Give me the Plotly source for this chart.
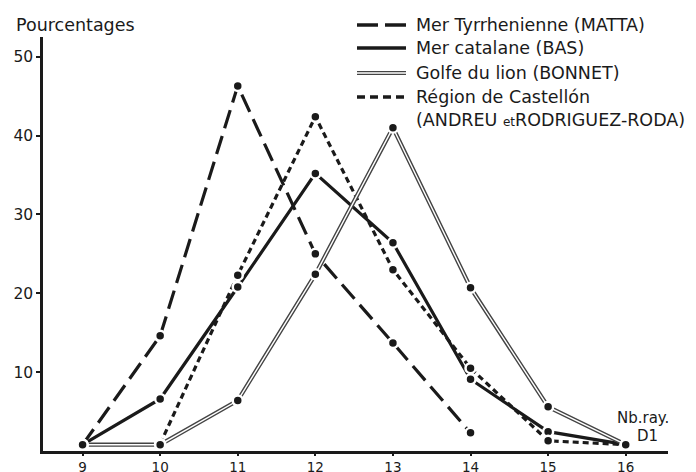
import plotly.graph_objects as go

# ---- data ----
x_ticks = [9, 10, 11, 12, 13, 14, 15, 16]
y_ticks = [10, 20, 30, 40, 50]

matta_x = [9, 10, 11, 12, 13, 14]
matta_y = [0.8, 14.6, 46.3, 25.0, 13.7, 2.3]

bas_x = [9, 10, 11, 12, 13, 14, 15, 16]
bas_y = [0.8, 6.6, 20.8, 35.2, 26.4, 9.1, 2.45, 0.8]

bonnet_x = [9, 10, 11, 12, 13, 14, 15, 16]
bonnet_y = [0.8, 0.8, 6.4, 22.4, 41.0, 20.7, 5.6, 0.8]

andreu_x = [10, 11, 12, 13, 14, 15, 16]
andreu_y = [0.9, 22.3, 42.4, 23.0, 10.5, 1.3, 0.8]

legend_labels = [
    "Mer Tyrrhenienne (MATTA)",
    "Mer catalane (BAS)",
    "Golfe du lion (BONNET)",
    "Région de Castellón<br>(ANDREU <span style='font-size:12px'>et</span>RODRIGUEZ-RODA)",
]

FONT = "DejaVu Sans"
INK = "#1a1a1a"
OFF = 8                      # page body margin
WIN_W, WIN_H = 696, 472
W, H = WIN_W - OFF, WIN_H - OFF
PL, PR, PT, PB = 43, 668, 37, 451   # plot area in window pixels
L, R, T, B = PL - OFF, (W + OFF) - PR, PT - OFF, (H + OFF) - PB


def px(x):
    return (x - PL) / (PR - PL)


def py(y):
    return (PB - y) / (PB - PT)


fig = go.Figure()

# lines
fig.add_trace(go.Scatter(x=matta_x, y=matta_y, mode="lines",
                         line=dict(color=INK, width=3.2, dash="19px,8px"),
                         hoverinfo="skip"))
fig.add_trace(go.Scatter(x=bas_x, y=bas_y, mode="lines",
                         line=dict(color=INK, width=3.2), hoverinfo="skip"))
fig.add_trace(go.Scatter(x=andreu_x, y=andreu_y, mode="lines",
                         line=dict(color=INK, width=3.2, dash="6px,4px"),
                         hoverinfo="skip"))
fig.add_trace(go.Scatter(x=bonnet_x, y=bonnet_y, mode="lines",
                         line=dict(color="#444444", width=4.2), hoverinfo="skip"))
fig.add_trace(go.Scatter(x=bonnet_x, y=bonnet_y, mode="lines",
                         line=dict(color="white", width=1.4), hoverinfo="skip"))

# point markers
for xs, ys in [(matta_x, matta_y), (bas_x, bas_y), (andreu_x, andreu_y), (bonnet_x, bonnet_y)]:
    fig.add_trace(go.Scatter(x=xs, y=ys, mode="markers",
                             marker=dict(color=INK, size=10, line=dict(color="white", width=2.5)),
                             hoverinfo="skip"))

# ---- custom legend ----
shapes = []
annotations = []
rows_y = [25, 48, 73, 97]
x0, x1 = 357, 406
# row 1: long dashes
shapes.append(dict(type="line", xref="paper", yref="paper", x0=px(357), x1=px(378),
                   y0=py(rows_y[0]), y1=py(rows_y[0]), line=dict(color=INK, width=3.5)))
shapes.append(dict(type="line", xref="paper", yref="paper", x0=px(385), x1=px(406),
                   y0=py(rows_y[0]), y1=py(rows_y[0]), line=dict(color=INK, width=3.5)))
# row 2: solid
shapes.append(dict(type="line", xref="paper", yref="paper", x0=px(x0), x1=px(x1),
                   y0=py(rows_y[1]), y1=py(rows_y[1]), line=dict(color=INK, width=3.5)))
# row 3: double
shapes.append(dict(type="line", xref="paper", yref="paper", x0=px(x0), x1=px(x1),
                   y0=py(rows_y[2]), y1=py(rows_y[2]), line=dict(color="#444444", width=4.2)))
shapes.append(dict(type="line", xref="paper", yref="paper", x0=px(x0), x1=px(x1),
                   y0=py(rows_y[2]), y1=py(rows_y[2]), line=dict(color="white", width=1.4)))
# row 4: short dashes
shapes.append(dict(type="line", xref="paper", yref="paper", x0=px(x0), x1=px(x1),
                   y0=py(rows_y[3]), y1=py(rows_y[3]),
                   line=dict(color=INK, width=3.5, dash="8px,5px")))

for i, lab in enumerate(legend_labels[:3]):
    annotations.append(dict(xref="paper", yref="paper", x=px(414), y=py(rows_y[i]),
                            xanchor="left", yanchor="middle",
                            text=lab, showarrow=False, align="left",
                            font=dict(family=FONT, size=17.5, color=INK)))
annotations.append(dict(xref="paper", yref="paper", x=px(414), y=py(108),
                        xanchor="left", yanchor="middle",
                        text=legend_labels[3], showarrow=False, align="left",
                        font=dict(family=FONT, size=17.5, color=INK)))

annotations.append(dict(xref="paper", yref="paper", x=px(14), y=py(25), xanchor="left",
                        yanchor="middle", text="Pourcentages", showarrow=False,
                        font=dict(family=FONT, size=17.5, color=INK)))
annotations.append(dict(xref="paper", yref="paper", x=px(671), y=py(418), xanchor="right",
                        yanchor="middle", text="Nb.ray.", showarrow=False,
                        font=dict(family=FONT, size=15, color=INK)))
annotations.append(dict(xref="paper", yref="paper", x=px(660), y=py(436), xanchor="right",
                        yanchor="middle", text="D1", showarrow=False,
                        font=dict(family=FONT, size=15, color=INK)))

fig.update_layout(
    width=W, height=H,
    margin=dict(l=L, r=R, t=T, b=B, autoexpand=False),
    paper_bgcolor="white", plot_bgcolor="white",
    showlegend=False,
    shapes=shapes, annotations=annotations,
    font=dict(family=FONT, size=15, color=INK),
)
fig.update_xaxes(range=[8.49, 16.545], tickvals=x_ticks, ticktext=[str(v) for v in x_ticks],
                 automargin=False,
                 showgrid=False, zeroline=False, showline=True, linecolor=INK, linewidth=2.5,
                 ticks="outside", ticklen=2, tickwidth=1.5, tickcolor=INK,
                 tickfont=dict(family=FONT, size=13.5, color=INK))
fig.update_yaxes(range=[0, 52.5], tickvals=y_ticks, ticktext=[str(v) for v in y_ticks],
                 automargin=False,
                 showgrid=False, zeroline=False, showline=True, linecolor=INK, linewidth=2.5,
                 ticks="outside", ticklen=4, tickwidth=1.5, tickcolor=INK,
                 tickfont=dict(family=FONT, size=15.5, color=INK))

fig.write_html("out.html")
